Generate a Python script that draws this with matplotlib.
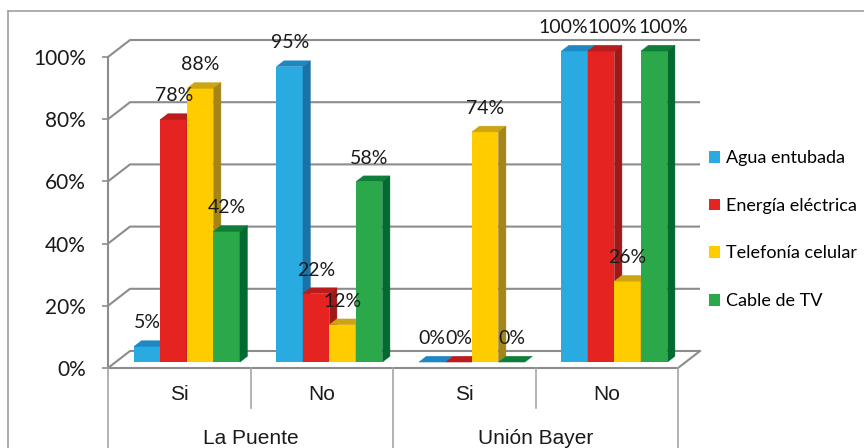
import matplotlib
matplotlib.use("Agg")
import matplotlib.pyplot as plt
from matplotlib.patches import Polygon, Patch
from matplotlib.lines import Line2D
from matplotlib.transforms import blended_transform_factory

# ---- data ----
groups = ["La Puente", "Unión Bayer"]
answers = ["Si", "No", "Si", "No"]
series = ["Agua entubada", "Energía eléctrica", "Telefonía celular", "Cable de TV"]
agua = [5, 95, 0, 100]
energia = [78, 22, 0, 100]
telefonia = [88, 12, 74, 26]
cable = [42, 58, 0, 100]
yticks = [0, 20, 40, 60, 80, 100]

values = [agua, energia, telefonia, cable]
front_col = ["#29ABE2", "#E52421", "#FFCC00", "#2BA84A"]
top_col = ["#1E88C4", "#B81C1C", "#CDA512", "#0E7E3A"]
side_col = ["#1A72A6", "#A01818", "#A3851A", "#006A30"]

# horizontal nudges (points) for crowded value labels: (category, series) -> dx
label_nudge = {(3, 0): -8.3, (3, 1): 7.9, (3, 3): 6.5}

W, H = 864, 448
fig = plt.figure(figsize=(W / 100, H / 100), dpi=100)

# front plane of the 3-D box, in pixel terms
x0p, x1p, y0p, y1p = 108, 678, 368, 57
ax = fig.add_axes([x0p / W, 1 - y0p / H, (x1p - x0p) / W, (y0p - y1p) / H])
ncat = len(answers)
ax.set_xlim(0, ncat)
ax.set_ylim(0, 100)
for s in ax.spines.values():
    s.set_visible(False)

# depth of the box (data units) and bar slab position inside it
DX = 22 / ((x1p - x0p) / ncat)
DY = 17 / ((y0p - y1p) / 100)
F0, F1 = 0.35, 0.69
grid_c = "#8C8C8C"

# walls: back gridlines, left wall diagonals, floor
for t in yticks:
    ax.plot([0, DX, ncat + DX], [t, t + DY, t + DY], color=grid_c, lw=1.5,
            clip_on=False, zorder=1, solid_capstyle="butt")
ax.plot([0, ncat, ncat + DX], [0, 0, DY], color=grid_c, lw=1.5, clip_on=False, zorder=1)
ax.plot([0, 0], [0, 100], color=grid_c, lw=1.5, clip_on=False, zorder=1)

# y axis ticks
ax.set_yticks(yticks)
ax.set_yticklabels([f"{t}%" for t in yticks], fontsize=15, family="Lato", color="#1a1a1a")
ax.tick_params(axis="y", length=4, width=1.2, color=grid_c, pad=12)
ax.set_xticks([])

# bars
w = 0.186
b = F0 * DY
ddx, ddy = (F1 - F0) * DX, (F1 - F0) * DY
for ci in range(ncat):
    left0 = ci + 0.5 - 2 * w + F0 * DX
    for si, vals in enumerate(values):
        v = vals[ci]
        xl = left0 + si * w
        z = 3 + ci * 10 + si
        ax.bar(xl, v, width=w, bottom=b, align="edge", color=front_col[si],
               linewidth=0, zorder=z, clip_on=False)
        top = [(xl, v + b), (xl + w, v + b), (xl + w + ddx, v + b + ddy), (xl + ddx, v + b + ddy)]
        ax.add_patch(Polygon(top, closed=True, facecolor=top_col[si], edgecolor=top_col[si],
                             lw=0.3, zorder=z, clip_on=False))
        if v > 0:
            side = [(xl + w, b), (xl + w, v + b), (xl + w + ddx, v + b + ddy), (xl + w + ddx, b + ddy)]
            ax.add_patch(Polygon(side, closed=True, facecolor=side_col[si], edgecolor=side_col[si],
                                 lw=0.3, zorder=z, clip_on=False))
        ax.annotate(f"{v}%", xy=(xl + w / 2, v + b),
                    xytext=(label_nudge.get((ci, si), 0), 17), textcoords="offset points",
                    ha="center", va="center", fontsize=14, family="Lato", color="#1a1a1a",
                    zorder=100, annotation_clip=False)

# category band below the floor
bt = blended_transform_factory(ax.transData, ax.transAxes)
ph = y0p - y1p
for k in range(ncat + 1):
    bottom = -80 / ph if k % 2 == 0 else -40 / ph
    ax.plot([k, k], [0, bottom], color="#A6A6A6", lw=1.2, transform=bt, clip_on=False)
for ci, lab in enumerate(answers):
    ax.text(ci + 0.5, -27 / ph, lab, transform=bt, ha="center", va="center",
            fontsize=15, family="Liberation Sans", color="#1a1a1a")
for gi, g in enumerate(groups):
    ax.text(2 * gi + 1, -71 / ph, g, transform=bt, ha="center", va="center",
            fontsize=15, family="Liberation Sans", color="#1a1a1a")

# legend
handles = [Patch(facecolor=c, edgecolor="none") for c in front_col]
fig.legend(handles, series, loc="upper left", bbox_to_anchor=(702 / W, 1 - 143 / H),
           frameon=False, prop={"family": "Lato", "size": 13}, handlelength=0.62,
           handleheight=0.62, handletextpad=0.3, labelspacing=1.75, borderaxespad=0)

# chart border
fig.add_artist(Line2D([8 / W, 8 / W], [0, 1 - 11 / H], color="#A0A0A0", lw=1.2))
fig.add_artist(Line2D([8 / W, 1], [1 - 11 / H, 1 - 11 / H], color="#A0A0A0", lw=1.2))

fig.savefig("out.png", dpi=100)
